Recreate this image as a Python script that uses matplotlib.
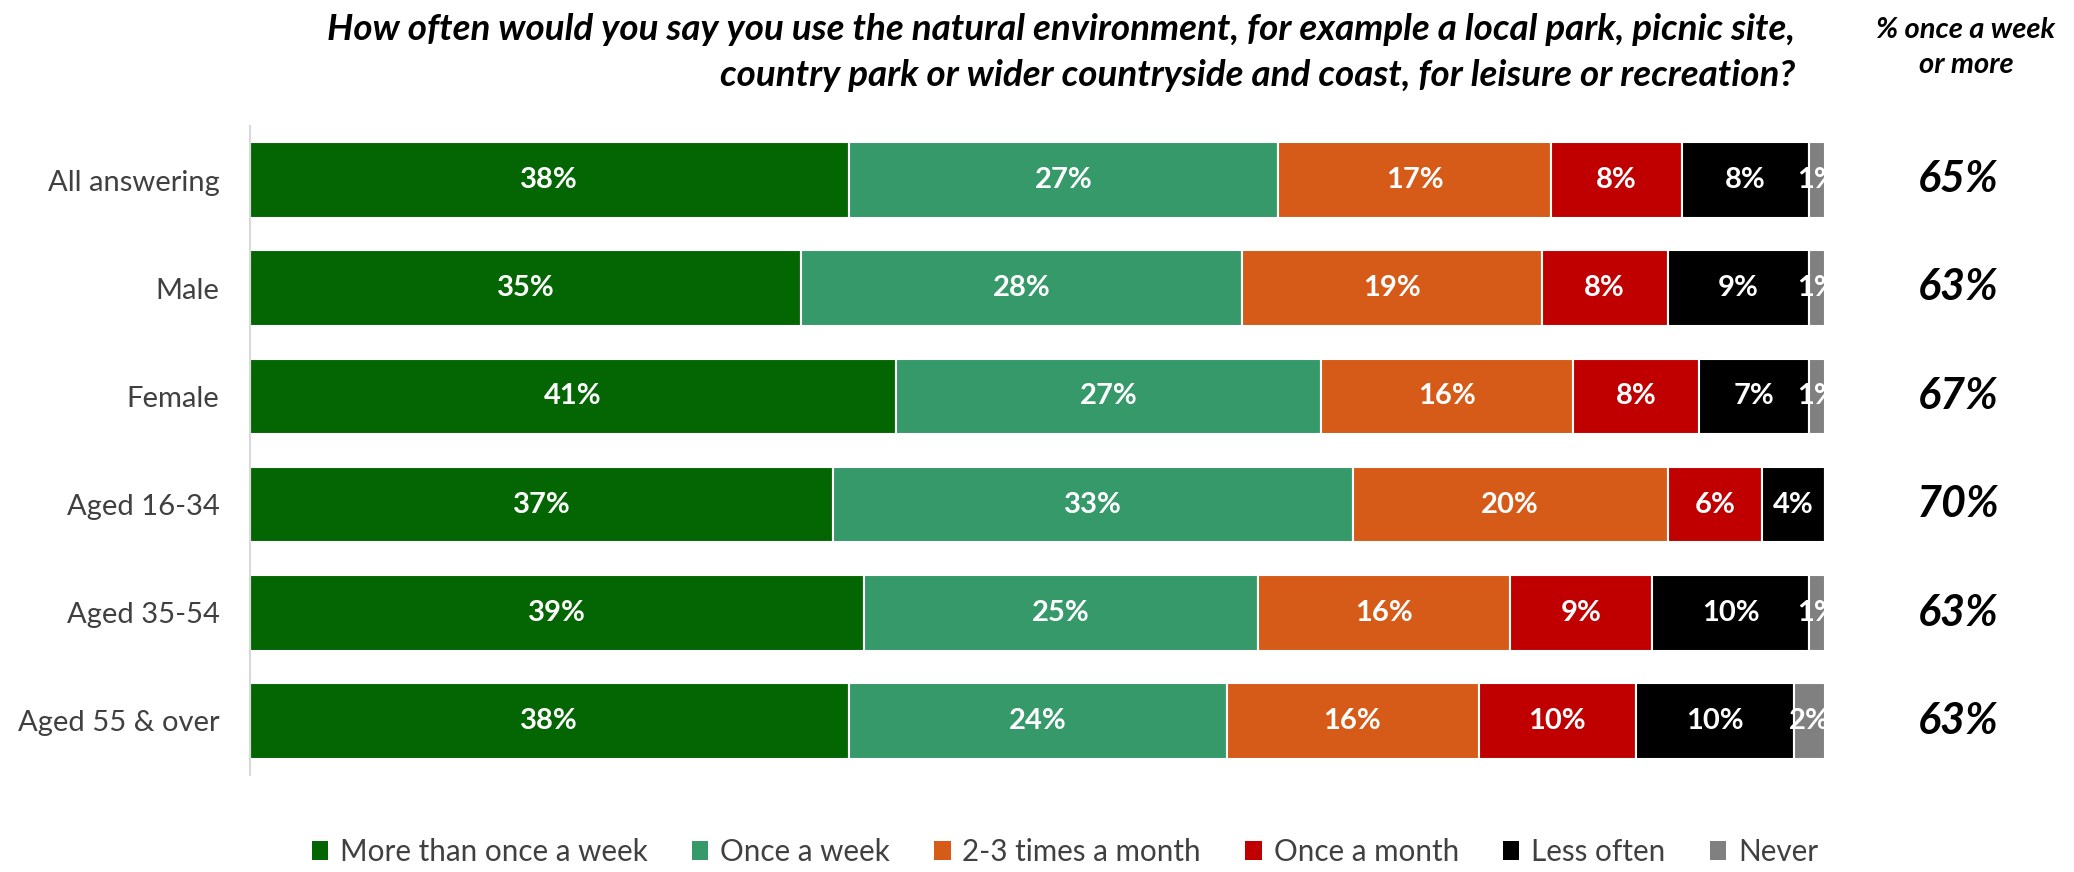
import numpy as np
import matplotlib.pyplot as plt
from matplotlib.patches import Patch

plt.rcParams['font.family'] = ['Lato', 'DejaVu Sans']

# -------------------------
# Data (shares; labels are the rounded values)
# -------------------------
groups = ["All answering", "Male", "Female", "Aged 16-34", "Aged 35-54", "Aged 55 & over"]
series = ["More than once a week", "Once a week", "2-3 times a month",
          "Once a month", "Less often", "Never"]
more_than_weekly = [38.0, 35, 41, 37, 39, 38]
once_a_week = [27.3, 28, 27, 33, 25, 24]
two_three_month = [17.3, 19, 16, 20, 16, 16]
once_a_month = [8.3, 8, 8, 6, 9, 10]
less_often = [8.1, 9, 7, 4, 10, 10]
never = [1.0, 1, 1, 0, 1, 2]
weekly_or_more = ["65%", "63%", "67%", "70%", "63%", "63%"]

colors = ["#036603", "#35996A", "#D65A18", "#C00000", "#000000", "#808080"]

vals = np.array([more_than_weekly, once_a_week, two_three_month,
                 once_a_month, less_often, never], dtype=float)
# bars are stacked to 100%
shares = vals / vals.sum(axis=0) * 100

# -------------------------
# Plot
# -------------------------
fig = plt.figure(figsize=(20.74, 8.72), dpi=100)
ax = fig.add_axes([250 / 2074, 1 - 775 / 872, (1825 - 250) / 2074, (775 - 126) / 872])

y = np.arange(len(groups))
left = np.zeros(len(groups))
for i, name in enumerate(series):
    ax.barh(y, shares[i], left=left, height=0.7, color=colors[i],
            edgecolor="white", linewidth=1.5, label=name)
    for j in range(len(groups)):
        if vals[i, j] > 0:
            ax.text(left[j] + shares[i, j] / 2, y[j], f"{vals[i, j]:.0f}%",
                    ha="center", va="center", color="white", fontsize=21,
                    fontweight="bold", clip_on=True)
    left += shares[i]

ax.set_xlim(0, 100)
ax.set_ylim(len(groups) - 0.5, -0.5)
ax.set_yticks(y)
ax.set_yticklabels(groups, fontsize=21, color="#404040")
ax.tick_params(axis="y", length=0, pad=22)
ax.set_xticks([])
for s in ["top", "right", "bottom"]:
    ax.spines[s].set_visible(False)
ax.spines["left"].set_color("#D9D9D9")
ax.spines["left"].set_linewidth(1.5)

# right-hand column
for j, txt in enumerate(weekly_or_more):
    ax.text(1958 / 2074, 1 - (179 + j * 108.4) / 872, txt, transform=fig.transFigure,
            ha="center", va="center", fontsize=31, fontweight="bold", style="italic")
fig.text(1966 / 2074, 1 - 30 / 872, "% once a week", ha="center", va="center",
         fontsize=21, fontweight="bold", style="italic")
fig.text(1966 / 2074, 1 - 65 / 872, "or more", ha="center", va="center",
         fontsize=21, fontweight="bold", style="italic")

# title
fig.text(1795 / 2074, 1 - 30 / 872,
         "How often would you say you use the natural environment, for example a local park, picnic site,",
         ha="right", va="center", fontsize=26.5, fontweight="bold", style="italic")
fig.text(1795 / 2074, 1 - 76 / 872,
         "country park or wider countryside and coast, for leisure or recreation?",
         ha="right", va="center", fontsize=26.5, fontweight="bold", style="italic")

handles = [Patch(facecolor=c, label=n) for c, n in zip(colors, series)]
leg = fig.legend(handles=handles, loc="center", bbox_to_anchor=(1065 / 2074, 1 - 852 / 872),
                 ncol=6, frameon=False, fontsize=21.3, handlelength=0.55, handleheight=0.6,
                 handletextpad=0.4, columnspacing=1.5)
for t in leg.get_texts():
    t.set_color("#404040")

plt.savefig("out.png", dpi=100)
